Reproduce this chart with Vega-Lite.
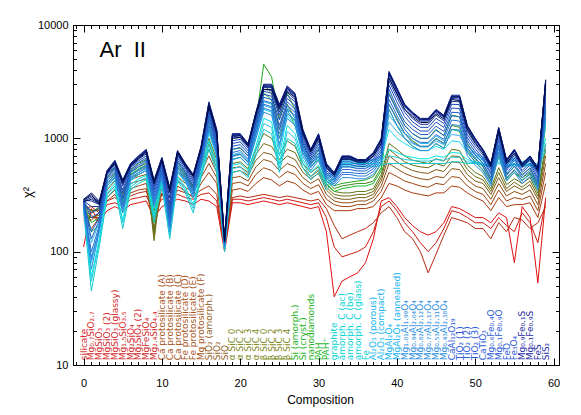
{
"$schema": "https://vega.github.io/schema/vega-lite/v6.json",
"width": 486, "height": 340,
"autosize": {"type": "none"},
"padding": {"left": 73, "top": 25, "right": 22, "bottom": 50},
"background": "white",
"config": {"font": "Liberation Sans", "view": {"stroke": "black", "strokeWidth": 1}},
"datasets": {
"lines": [
{"c":0,"a":110,"b":200,"cc":240,"d":190,"e":210,"f":230,"g":250,"h":220,"i":260,"j":240,"k":260,"l":280,"m":230,"n":250,"o":270,"p":260,"q":240,"r":260,"s":270,"t":280,"u":285,"v":280,"w":290,"x":285,"y1":245,"y2":255,"y3":255,"y4":268,"y5":275,"y6":282,"y7":288,"y8":275},
{"c":1,"a":240,"b":200,"cc":250,"d":160,"e":190,"f":210,"g":230,"h":200,"i":230,"j":220,"k":180,"l":150,"m":45,"n":60,"o":80,"p":120,"q":70,"r":100,"s":150,"t":220,"u":280,"v":300,"w":330,"x":320,"y1":55,"y2":90,"y3":85,"y4":130,"y5":200,"y6":250,"y7":310,"y8":290},
{"c":2,"a":180,"b":200,"cc":220,"d":200,"e":220,"f":180,"g":230,"h":210,"i":240,"j":250,"k":200,"l":170,"m":110,"n":130,"o":150,"p":180,"q":150,"r":170,"s":200,"t":240,"u":260,"v":270,"w":280,"x":260,"y1":120,"y2":160,"y3":160,"y4":190,"y5":220,"y6":250,"y7":275,"y8":265},
{"c":3,"a":230,"b":260,"cc":280,"d":280,"e":300,"f":320,"g":350,"h":380,"i":400,"j":420,"k":450,"l":400,"m":300,"n":330,"o":360,"p":400,"q":380,"r":420,"s":450,"t":480,"u":500,"v":510,"w":520,"x":500,"y1":320,"y2":380,"y3":400,"y4":440,"y5":470,"y6":490,"y7":515,"y8":505},
{"c":4,"a":250,"b":270,"cc":300,"d":320,"e":350,"f":380,"g":420,"h":450,"i":480,"j":500,"k":550,"l":480,"m":360,"n":400,"o":430,"p":470,"q":450,"r":500,"s":540,"t":580,"u":610,"v":620,"w":640,"x":600,"y1":380,"y2":450,"y3":470,"y4":520,"y5":560,"y6":600,"y7":630,"y8":610},
{"c":5,"a":230,"b":250,"cc":270,"d":250,"e":270,"f":300,"g":320,"h":300,"i":330,"j":300,"k":280,"l":260,"m":160,"n":190,"o":220,"p":260,"q":220,"r":260,"s":300,"t":350,"u":400,"v":410,"w":430,"x":420,"y1":180,"y2":240,"y3":240,"y4":290,"y5":330,"y6":380,"y7":425,"y8":400},
{"c":6,"a":260,"b":290,"cc":310,"d":330,"e":360,"f":400,"g":430,"h":450,"i":480,"j":500,"k":520,"l":480,"m":350,"n":390,"o":420,"p":460,"q":430,"r":470,"s":510,"t":550,"u":580,"v":590,"w":600,"x":570,"y1":370,"y2":440,"y3":450,"y4":500,"y5":530,"y6":560,"y7":595,"y8":580},
{"c":7,"a":270,"b":300,"cc":330,"d":350,"e":380,"f":420,"g":460,"h":480,"i":520,"j":560,"k":600,"l":540,"m":400,"n":440,"o":480,"p":520,"q":480,"r":530,"s":580,"t":630,"u":670,"v":680,"w":700,"x":660,"y1":420,"y2":500,"y3":500,"y4":560,"y5":610,"y6":650,"y7":690,"y8":670},
{"c":8,"a":280,"b":310,"cc":340,"d":360,"e":400,"f":440,"g":480,"h":520,"i":560,"j":600,"k":650,"l":580,"m":430,"n":470,"o":520,"p":570,"q":520,"r":580,"s":640,"t":700,"u":760,"v":780,"w":800,"x":750,"y1":450,"y2":540,"y3":550,"y4":620,"y5":670,"y6":730,"y7":790,"y8":770},
{"c":9,"a":200,"b":230,"cc":250,"d":160,"e":180,"f":200,"g":140,"h":125,"i":150,"j":260,"k":230,"l":200,"m":180,"n":210,"o":240,"p":280,"q":250,"r":290,"s":330,"t":370,"u":400,"v":410,"w":430,"x":400,"y1":200,"y2":260,"y3":270,"y4":310,"y5":350,"y6":390,"y7":420,"y8":415},
{"c":10,"a":250,"b":290,"cc":320,"d":330,"e":370,"f":410,"g":450,"h":470,"i":500,"j":520,"k":560,"l":500,"m":380,"n":420,"o":460,"p":500,"q":450,"r":500,"s":560,"t":610,"u":650,"v":660,"w":680,"x":640,"y1":400,"y2":480,"y3":480,"y4":530,"y5":590,"y6":630,"y7":670,"y8":655},
{"c":11,"a":270,"b":300,"cc":260,"d":220,"e":240,"f":260,"g":200,"h":180,"i":200,"j":220,"k":200,"l":180,"m":130,"n":150,"o":170,"p":190,"q":150,"r":180,"s":220,"t":270,"u":330,"v":350,"w":370,"x":340,"y1":140,"y2":180,"y3":165,"y4":200,"y5":240,"y6":300,"y7":360,"y8":355},
{"c":12,"a":290,"b":320,"cc":350,"d":380,"e":420,"f":460,"g":500,"h":520,"i":540,"j":580,"k":620,"l":560,"m":420,"n":460,"o":500,"p":550,"q":520,"r":580,"s":640,"t":700,"u":750,"v":760,"w":780,"x":740,"y1":440,"y2":520,"y3":550,"y4":610,"y5":670,"y6":720,"y7":770,"y8":760},
{"c":13,"a":280,"b":300,"cc":330,"d":340,"e":370,"f":400,"g":430,"h":440,"i":460,"j":480,"k":500,"l":460,"m":330,"n":370,"o":410,"p":450,"q":420,"r":470,"s":510,"t":550,"u":580,"v":590,"w":600,"x":570,"y1":350,"y2":430,"y3":445,"y4":490,"y5":530,"y6":560,"y7":595,"y8":585},
{"c":14,"a":260,"b":290,"cc":310,"d":300,"e":330,"f":350,"g":380,"h":360,"i":380,"j":380,"k":360,"l":340,"m":220,"n":260,"o":300,"p":340,"q":300,"r":340,"s":380,"t":420,"u":460,"v":470,"w":480,"x":460,"y1":240,"y2":320,"y3":320,"y4":360,"y5":400,"y6":440,"y7":475,"y8":470},
{"c":15,"a":290,"b":320,"cc":350,"d":400,"e":450,"f":500,"g":550,"h":560,"i":600,"j":650,"k":700,"l":620,"m":450,"n":500,"o":550,"p":600,"q":560,"r":620,"s":690,"t":760,"u":820,"v":830,"w":850,"x":800,"y1":470,"y2":570,"y3":590,"y4":660,"y5":720,"y6":790,"y7":840,"y8":820},
{"c":16,"a":280,"b":330,"cc":380,"d":500,"e":600,"f":700,"g":800,"h":900,"i":1000,"j":1300,"k":1500,"l":1200,"m":800,"n":950,"o":1100,"p":1250,"q":1200,"r":1400,"s":1600,"t":1800,"u":1950,"v":2000,"w":2100,"x":1900,"y1":870,"y2":1150,"y3":1300,"y4":1500,"y5":1700,"y6":1850,"y7":2050,"y8":2000},
{"c":17,"a":250,"b":280,"cc":320,"d":400,"e":450,"f":500,"g":550,"h":600,"i":650,"j":800,"k":900,"l":750,"m":500,"n":600,"o":700,"p":800,"q":700,"r":800,"s":900,"t":1000,"u":1100,"v":1150,"w":1200,"x":1100,"y1":550,"y2":750,"y3":750,"y4":850,"y5":950,"y6":1050,"y7":1180,"y8":1150},
{"c":18,"a":100,"b":110,"cc":105,"d":110,"e":115,"f":120,"g":112,"h":118,"i":122,"j":120,"k":125,"l":118,"m":100,"n":108,"o":115,"p":120,"q":110,"r":115,"s":120,"t":125,"u":128,"v":125,"w":130,"x":122,"y1":104,"y2":118,"y3":112,"y4":118,"y5":122,"y6":126,"y7":128,"y8":127},
{"c":19,"a":270,"b":290,"cc":300,"d":350,"e":400,"f":450,"g":500,"h":550,"i":600,"j":700,"k":800,"l":650,"m":500,"n":580,"o":650,"p":720,"q":650,"r":750,"s":850,"t":950,"u":1030,"v":1060,"w":1100,"x":1000,"y1":540,"y2":690,"y3":700,"y4":800,"y5":900,"y6":1000,"y7":1080,"y8":1050},
{"c":20,"a":270,"b":290,"cc":310,"d":360,"e":410,"f":460,"g":520,"h":560,"i":620,"j":720,"k":820,"l":680,"m":520,"n":600,"o":680,"p":750,"q":680,"r":780,"s":880,"t":980,"u":1050,"v":1080,"w":1100,"x":1020,"y1":560,"y2":720,"y3":730,"y4":830,"y5":930,"y6":1020,"y7":1090,"y8":1060},
{"c":21,"a":260,"b":280,"cc":300,"d":340,"e":380,"f":420,"g":470,"h":500,"i":540,"j":620,"k":700,"l":580,"m":450,"n":520,"o":580,"p":640,"q":580,"r":660,"s":740,"t":820,"u":870,"v":880,"w":900,"x":850,"y1":480,"y2":610,"y3":620,"y4":700,"y5":780,"y6":850,"y7":890,"y8":870},
{"c":22,"a":270,"b":290,"cc":310,"d":400,"e":480,"f":560,"g":640,"h":720,"i":800,"j":1200,"k":1400,"l":1100,"m":700,"n":850,"o":1000,"p":1150,"q":1000,"r":1200,"s":1350,"t":1500,"u":1650,"v":1650,"w":1700,"x":1600,"y1":780,"y2":1080,"y3":1100,"y4":1280,"y5":1420,"y6":1580,"y7":1680,"y8":1650},
{"c":23,"a":280,"b":300,"cc":320,"d":450,"e":550,"f":650,"g":750,"h":900,"i":1100,"j":3000,"k":4500,"l":2500,"m":1200,"n":1500,"o":1800,"p":2100,"q":1700,"r":2000,"s":2300,"t":2600,"u":2800,"v":2900,"w":3000,"x":2700,"y1":1350,"y2":1950,"y3":1850,"y4":2150,"y5":2450,"y6":2700,"y7":2950,"y8":2850},
{"c":24,"a":270,"b":290,"cc":310,"d":430,"e":520,"f":620,"g":720,"h":850,"i":1000,"j":2500,"k":3500,"l":2200,"m":1100,"n":1400,"o":1700,"p":2000,"q":1600,"r":1900,"s":2200,"t":2500,"u":2800,"v":2900,"w":3000,"x":2700,"y1":1250,"y2":1850,"y3":1750,"y4":2050,"y5":2350,"y6":2650,"y7":2950,"y8":2850},
{"c":25,"a":260,"b":280,"cc":300,"d":380,"e":450,"f":520,"g":600,"h":650,"i":720,"j":1200,"k":1500,"l":1000,"m":500,"n":600,"o":700,"p":850,"q":900,"r":1100,"s":1300,"t":1600,"u":1850,"v":1900,"w":2000,"x":1800,"y1":550,"y2":800,"y3":1000,"y4":1200,"y5":1450,"y6":1700,"y7":1950,"y8":1900},
{"c":26,"a":270,"b":290,"cc":310,"d":420,"e":510,"f":600,"g":700,"h":800,"i":950,"j":2000,"k":2500,"l":1800,"m":1000,"n":1300,"o":1600,"p":1900,"q":1500,"r":1800,"s":2100,"t":2400,"u":2700,"v":2800,"w":2900,"x":2600,"y1":1150,"y2":1750,"y3":1650,"y4":1950,"y5":2250,"y6":2550,"y7":2850,"y8":2750},
{"c":27,"a":260,"b":280,"cc":300,"d":400,"e":480,"f":560,"g":650,"h":750,"i":850,"j":1500,"k":1800,"l":1300,"m":900,"n":1100,"o":1300,"p":1500,"q":1300,"r":1600,"s":1800,"t":2100,"u":2300,"v":2400,"w":2500,"x":2300,"y1":1000,"y2":1400,"y3":1450,"y4":1700,"y5":1950,"y6":2200,"y7":2450,"y8":2400},
{"c":28,"a":250,"b":270,"cc":290,"d":350,"e":400,"f":450,"g":500,"h":550,"i":600,"j":800,"k":900,"l":750,"m":550,"n":650,"o":750,"p":850,"q":700,"r":800,"s":900,"t":1000,"u":1100,"v":1150,"w":1200,"x":1100,"y1":600,"y2":800,"y3":750,"y4":850,"y5":950,"y6":1050,"y7":1180,"y8":1150},
{"c":29,"a":240,"b":260,"cc":280,"d":320,"e":360,"f":400,"g":440,"h":460,"i":500,"j":600,"k":650,"l":560,"m":430,"n":500,"o":560,"p":620,"q":520,"r":580,"s":640,"t":700,"u":760,"v":780,"w":800,"x":760,"y1":460,"y2":590,"y3":550,"y4":610,"y5":670,"y6":730,"y7":790,"y8":780},
{"c":30,"a":250,"b":270,"cc":290,"d":340,"e":390,"f":440,"g":490,"h":520,"i":560,"j":700,"k":800,"l":650,"m":500,"n":580,"o":660,"p":740,"q":640,"r":740,"s":840,"t":940,"u":1040,"v":1070,"w":1100,"x":1000,"y1":540,"y2":700,"y3":690,"y4":790,"y5":890,"y6":990,"y7":1080,"y8":1050},
{"c":31,"a":150,"b":200,"cc":240,"d":260,"e":290,"f":320,"g":350,"h":370,"i":390,"j":420,"k":450,"l":400,"m":350,"n":400,"o":440,"p":480,"q":420,"r":460,"s":500,"t":540,"u":570,"v":580,"w":600,"x":560,"y1":380,"y2":460,"y3":440,"y4":480,"y5":520,"y6":555,"y7":590,"y8":585},
{"c":32,"a":40,"b":110,"cc":170,"d":230,"e":260,"f":280,"g":300,"h":320,"i":340,"j":360,"k":380,"l":340,"m":420,"n":450,"o":480,"p":500,"q":380,"r":410,"s":440,"t":470,"u":490,"v":490,"w":500,"x":470,"y1":440,"y2":490,"y3":395,"y4":425,"y5":455,"y6":480,"y7":495,"y8":485},
{"c":33,"a":55,"b":90,"cc":130,"d":230,"e":250,"f":270,"g":290,"h":310,"i":330,"j":380,"k":400,"l":360,"m":560,"n":600,"o":620,"p":650,"q":450,"r":500,"s":560,"t":620,"u":670,"v":680,"w":700,"x":660,"y1":580,"y2":640,"y3":480,"y4":530,"y5":590,"y6":650,"y7":690,"y8":685},
{"c":34,"a":60,"b":95,"cc":140,"d":230,"e":250,"f":270,"g":290,"h":310,"i":330,"j":390,"k":410,"l":370,"m":560,"n":600,"o":620,"p":650,"q":450,"r":500,"s":560,"t":620,"u":670,"v":680,"w":700,"x":660,"y1":580,"y2":640,"y3":480,"y4":530,"y5":590,"y6":650,"y7":690,"y8":685},
{"c":35,"a":65,"b":100,"cc":150,"d":240,"e":260,"f":280,"g":300,"h":320,"i":340,"j":400,"k":420,"l":380,"m":560,"n":600,"o":620,"p":640,"q":440,"r":490,"s":540,"t":590,"u":630,"v":640,"w":650,"x":620,"y1":580,"y2":630,"y3":465,"y4":515,"y5":565,"y6":610,"y7":645,"y8":640},
{"c":36,"a":80,"b":110,"cc":160,"d":240,"e":260,"f":280,"g":300,"h":320,"i":340,"j":400,"k":430,"l":380,"m":560,"n":600,"o":620,"p":640,"q":440,"r":490,"s":540,"t":590,"u":630,"v":640,"w":650,"x":620,"y1":580,"y2":630,"y3":465,"y4":515,"y5":565,"y6":610,"y7":645,"y8":640},
{"c":37,"a":130,"b":150,"cc":180,"d":250,"e":280,"f":300,"g":320,"h":340,"i":360,"j":420,"k":460,"l":400,"m":560,"n":600,"o":620,"p":650,"q":480,"r":540,"s":600,"t":660,"u":720,"v":730,"w":750,"x":700,"y1":580,"y2":640,"y3":510,"y4":570,"y5":630,"y6":690,"y7":740,"y8":735},
{"c":38,"a":280,"b":250,"cc":220,"d":300,"e":340,"f":380,"g":420,"h":450,"i":480,"j":550,"k":600,"l":520,"m":580,"n":620,"o":650,"p":700,"q":600,"r":680,"s":760,"t":850,"u":930,"v":960,"w":1000,"x":900,"y1":600,"y2":680,"y3":640,"y4":720,"y5":800,"y6":890,"y7":980,"y8":970},
{"c":39,"a":300,"b":280,"cc":250,"d":400,"e":500,"f":600,"g":700,"h":800,"i":900,"j":2000,"k":2500,"l":1800,"m":600,"n":800,"o":1200,"p":1600,"q":1800,"r":2200,"s":2700,"t":3200,"u":3600,"v":3700,"w":3900,"x":3400,"y1":700,"y2":1400,"y3":2000,"y4":2450,"y5":2950,"y6":3400,"y7":3800,"y8":3750},
{"c":40,"a":250,"b":230,"cc":200,"d":380,"e":460,"f":540,"g":620,"h":700,"i":800,"j":1500,"k":1800,"l":1300,"m":600,"n":750,"o":1000,"p":1300,"q":1300,"r":1600,"s":1900,"t":2300,"u":2600,"v":2700,"w":2800,"x":2500,"y1":680,"y2":1150,"y3":1450,"y4":1750,"y5":2100,"y6":2450,"y7":2750,"y8":2720},
{"c":41,"a":200,"b":180,"cc":150,"d":350,"e":420,"f":490,"g":560,"h":620,"i":700,"j":1100,"k":1300,"l":1000,"m":600,"n":700,"o":900,"p":1100,"q":1000,"r":1200,"s":1400,"t":1700,"u":1900,"v":1950,"w":2000,"x":1800,"y1":650,"y2":1000,"y3":1100,"y4":1300,"y5":1550,"y6":1800,"y7":1980,"y8":1960},
{"c":42,"a":170,"b":150,"cc":130,"d":330,"e":400,"f":460,"g":520,"h":580,"i":640,"j":950,"k":1100,"l":850,"m":600,"n":680,"o":820,"p":1000,"q":850,"r":1000,"s":1200,"t":1400,"u":1600,"v":1650,"w":1700,"x":1550,"y1":640,"y2":900,"y3":920,"y4":1100,"y5":1300,"y6":1500,"y7":1680,"y8":1660},
{"c":43,"a":150,"b":120,"cc":100,"d":320,"e":380,"f":440,"g":500,"h":560,"i":620,"j":850,"k":1000,"l":780,"m":600,"n":660,"o":780,"p":900,"q":780,"r":920,"s":1080,"t":1250,"u":1420,"v":1450,"w":1500,"x":1380,"y1":630,"y2":840,"y3":850,"y4":1000,"y5":1160,"y6":1330,"y7":1480,"y8":1470},
{"c":44,"a":140,"b":100,"cc":65,"d":310,"e":370,"f":430,"g":490,"h":550,"i":600,"j":850,"k":1000,"l":780,"m":600,"n":660,"o":780,"p":900,"q":780,"r":920,"s":1080,"t":1250,"u":1420,"v":1450,"w":1500,"x":1380,"y1":630,"y2":840,"y3":850,"y4":1000,"y5":1160,"y6":1330,"y7":1480,"y8":1470},
{"c":45,"a":150,"b":120,"cc":95,"d":330,"e":400,"f":460,"g":530,"h":600,"i":660,"j":1000,"k":1200,"l":900,"m":600,"n":700,"o":850,"p":1050,"q":900,"r":1080,"s":1280,"t":1500,"u":1700,"v":1750,"w":1800,"x":1650,"y1":650,"y2":950,"y3":990,"y4":1180,"y5":1390,"y6":1600,"y7":1780,"y8":1760},
{"c":46,"a":180,"b":160,"cc":140,"d":330,"e":390,"f":450,"g":510,"h":570,"i":630,"j":900,"k":1050,"l":820,"m":600,"n":680,"o":800,"p":950,"q":820,"r":980,"s":1150,"t":1350,"u":1520,"v":1550,"w":1600,"x":1480,"y1":640,"y2":880,"y3":900,"y4":1060,"y5":1250,"y6":1430,"y7":1580,"y8":1560},
{"c":47,"a":250,"b":230,"cc":200,"d":380,"e":460,"f":540,"g":620,"h":700,"i":800,"j":1300,"k":1600,"l":1200,"m":620,"n":750,"o":950,"p":1200,"q":1200,"r":1450,"s":1700,"t":2000,"u":2250,"v":2300,"w":2400,"x":2200,"y1":680,"y2":1080,"y3":1320,"y4":1580,"y5":1850,"y6":2120,"y7":2350,"y8":2330},
{"c":48,"a":240,"b":220,"cc":190,"d":370,"e":450,"f":530,"g":610,"h":690,"i":780,"j":1250,"k":1550,"l":1150,"m":620,"n":740,"o":930,"p":1180,"q":1180,"r":1420,"s":1680,"t":1980,"u":2220,"v":2300,"w":2400,"x":2150,"y1":680,"y2":1060,"y3":1300,"y4":1550,"y5":1830,"y6":2100,"y7":2350,"y8":2330},
{"c":49,"a":220,"b":200,"cc":180,"d":330,"e":380,"f":430,"g":480,"h":530,"i":580,"j":800,"k":900,"l":750,"m":600,"n":650,"o":750,"p":850,"q":700,"r":820,"s":950,"t":1080,"u":1220,"v":1260,"w":1300,"x":1200,"y1":620,"y2":800,"y3":760,"y4":880,"y5":1010,"y6":1150,"y7":1280,"y8":1270},
{"c":50,"a":200,"b":180,"cc":160,"d":300,"e":340,"f":380,"g":420,"h":460,"i":500,"j":650,"k":720,"l":620,"m":600,"n":620,"o":680,"p":750,"q":580,"r":670,"s":760,"t":860,"u":950,"v":980,"w":1000,"x":920,"y1":610,"y2":720,"y3":620,"y4":710,"y5":810,"y6":900,"y7":990,"y8":980},
{"c":51,"a":200,"b":180,"cc":160,"d":280,"e":320,"f":360,"g":400,"h":430,"i":460,"j":560,"k":600,"l":520,"m":580,"n":600,"o":640,"p":680,"q":500,"r":570,"s":640,"t":710,"u":770,"v":780,"w":800,"x":740,"y1":590,"y2":660,"y3":530,"y4":600,"y5":670,"y6":740,"y7":790,"y8":785},
{"c":52,"a":180,"b":160,"cc":130,"d":230,"e":260,"f":290,"g":320,"h":340,"i":360,"j":420,"k":450,"l":400,"m":560,"n":580,"o":600,"p":620,"q":380,"r":430,"s":480,"t":530,"u":580,"v":580,"w":600,"x":560,"y1":570,"y2":610,"y3":400,"y4":450,"y5":500,"y6":555,"y7":590,"y8":585},
{"c":53,"a":220,"b":200,"cc":180,"d":300,"e":350,"f":400,"g":450,"h":500,"i":550,"j":750,"k":850,"l":700,"m":600,"n":650,"o":750,"p":850,"q":700,"r":820,"s":950,"t":1080,"u":1200,"v":1220,"w":1250,"x":1150,"y1":620,"y2":800,"y3":760,"y4":880,"y5":1010,"y6":1140,"y7":1230,"y8":1220},
{"c":54,"a":200,"b":170,"cc":150,"d":250,"e":280,"f":310,"g":340,"h":360,"i":390,"j":450,"k":480,"l":430,"m":560,"n":580,"o":600,"p":620,"q":420,"r":470,"s":520,"t":570,"u":620,"v":630,"w":650,"x":600,"y1":570,"y2":610,"y3":440,"y4":490,"y5":540,"y6":595,"y7":640,"y8":635},
{"c":55,"a":80,"b":150,"cc":200,"d":260,"e":300,"f":340,"g":380,"h":410,"i":440,"j":520,"k":560,"l":500,"m":580,"n":600,"o":640,"p":680,"q":500,"r":570,"s":640,"t":710,"u":770,"v":780,"w":800,"x":740,"y1":590,"y2":660,"y3":530,"y4":600,"y5":670,"y6":740,"y7":790,"y8":785},
{"c":56,"a":250,"b":220,"cc":190,"d":260,"e":290,"f":320,"g":350,"h":370,"i":400,"j":450,"k":480,"l":430,"m":560,"n":580,"o":600,"p":620,"q":400,"r":450,"s":500,"t":550,"u":580,"v":590,"w":600,"x":570,"y1":570,"y2":610,"y3":420,"y4":470,"y5":520,"y6":565,"y7":595,"y8":590},
{"c":57,"a":200,"b":180,"cc":160,"d":270,"e":310,"f":350,"g":390,"h":420,"i":450,"j":500,"k":540,"l":480,"m":580,"n":600,"o":630,"p":660,"q":460,"r":520,"s":580,"t":640,"u":680,"v":690,"w":700,"x":660,"y1":590,"y2":645,"y3":490,"y4":550,"y5":610,"y6":660,"y7":695,"y8":690},
{"c":58,"a":53,"b":120,"cc":180,"d":200,"e":230,"f":260,"g":290,"h":310,"i":330,"j":380,"k":400,"l":360,"m":520,"n":540,"o":560,"p":580,"q":350,"r":390,"s":430,"t":480,"u":530,"v":540,"w":550,"x":520,"y1":530,"y2":570,"y3":370,"y4":410,"y5":450,"y6":500,"y7":545,"y8":540},
{"c":59,"a":300,"b":280,"cc":250,"d":400,"e":500,"f":600,"g":700,"h":800,"i":900,"j":1500,"k":1800,"l":1300,"m":800,"n":1000,"o":1300,"p":1600,"q":1500,"r":1900,"s":2300,"t":2700,"u":3100,"v":3200,"w":3300,"x":3000,"y1":900,"y2":1450,"y3":1700,"y4":2100,"y5":2500,"y6":2900,"y7":3250,"y8":3200}
],
"labels": [
{"c":0,"name":"silicate","fam":"sil"},
{"c":1,"name":"Mg₀.₇SiO₂.₇","fam":"sil"},
{"c":2,"name":"MgSiO₃","fam":"sil"},
{"c":3,"name":"MgSiO₃ (2)","fam":"sil"},
{"c":4,"name":"MgSiO₃ (glassy)","fam":"sil"},
{"c":5,"name":"Mg₁.₅SiO₃.₅","fam":"sil"},
{"c":6,"name":"Mg₂SiO₄","fam":"sil"},
{"c":7,"name":"Mg₂SiO₄ (2)","fam":"sil"},
{"c":8,"name":"MgFeSiO₄","fam":"sil"},
{"c":9,"name":"Mg₂.₄SiO₄.₄","fam":"sil"},
{"c":10,"name":"Ca protosilicate (A)","fam":"proto"},
{"c":11,"name":"Ca protosilicate (B)","fam":"proto"},
{"c":12,"name":"Ca protosilicate (C)","fam":"proto"},
{"c":13,"name":"Fe protosilicate (D)","fam":"proto"},
{"c":14,"name":"Fe protosilicate (E)","fam":"proto"},
{"c":15,"name":"Mg protosilicate (F)","fam":"proto"},
{"c":16,"name":"SiO₂     (amorph.)","fam":"sio"},
{"c":17,"name":"SiO₂","fam":"sio"},
{"c":18,"name":"SiO","fam":"sio"},
{"c":19,"name":"α SiC 0","fam":"sic"},
{"c":20,"name":"α SiC 2","fam":"sic"},
{"c":21,"name":"α SiC 3","fam":"sic"},
{"c":22,"name":"α SiC 4","fam":"sic"},
{"c":23,"name":"β SiC 0","fam":"sic"},
{"c":24,"name":"β SiC 2","fam":"sic"},
{"c":25,"name":"β SiC 3","fam":"sic"},
{"c":26,"name":"β SiC 4","fam":"sic"},
{"c":27,"name":"Si (amorph.)","fam":"si"},
{"c":28,"name":"Si (cryst.)","fam":"si"},
{"c":29,"name":"nanodiamonds","fam":"si"},
{"c":30,"name":"PAH","fam":"si"},
{"c":31,"name":"PAH⁺","fam":"si"},
{"c":32,"name":"graphite","fam":"car"},
{"c":33,"name":"amorph. C (ac)","fam":"car"},
{"c":34,"name":"amorph. C (be)","fam":"car"},
{"c":35,"name":"amorph. C (glass)","fam":"car"},
{"c":36,"name":"Fe","fam":"car"},
{"c":37,"name":"Al₂O₃ (porous)","fam":"al"},
{"c":38,"name":"Al₂O₃ (compact)","fam":"al"},
{"c":39,"name":"MgAl₂O₄","fam":"al"},
{"c":40,"name":"MgAl₂O₄ (annealed)","fam":"al"},
{"c":41,"name":"Mg₁.₀₁Al₁.₉₉O₄","fam":"sp"},
{"c":42,"name":"Mg₀.₉₄Al₂.₀₄O₄","fam":"sp"},
{"c":43,"name":"Mg₀.₈₂Al₂.₁₂O₄","fam":"sp"},
{"c":44,"name":"Mg₀.₇₇Al₂.₁₇O₄","fam":"sp"},
{"c":45,"name":"Mg₀.₅₃Al₂.₃₁O₄","fam":"sp"},
{"c":46,"name":"Mg₀.₄₃Al₂.₃₈O₄","fam":"sp"},
{"c":47,"name":"CaAl₁₂O₁₉","fam":"ox"},
{"c":48,"name":"TiO₂ (1)","fam":"ox"},
{"c":49,"name":"TiO₂ (2)","fam":"ox"},
{"c":50,"name":"TiO₂ (3)","fam":"ox"},
{"c":51,"name":"CaTiO₃","fam":"ox"},
{"c":52,"name":"Mg₀.₆Fe₀.₄O","fam":"ox"},
{"c":53,"name":"Mg₀.₁Fe₀.₉O","fam":"ox"},
{"c":54,"name":"FeO","fam":"ox"},
{"c":55,"name":"Fe₃O₄","fam":"ox"},
{"c":56,"name":"Mg₀.₉Fe₀.₁S","fam":"sul"},
{"c":57,"name":"Mg₀.₁Fe₀.₉S","fam":"sul"},
{"c":58,"name":"FeS","fam":"sul"},
{"c":59,"name":"SiS₂","fam":"sul"}
]
},
"layer": [
{
"data": {"name": "lines"},
"transform": [{"fold": ["a","b","cc","d","e","f","g","h","i","j","k","l","m","y1","n","o","p","y2","q","y3","r","s","y4","t","y5","u","y6","v","y7","w","y8","x"], "as": ["series","chi2"]}],
"mark": {"type": "line", "strokeWidth": 1, "clip": true},
"encoding": {
"x": {"field": "c", "type": "quantitative", "scale": {"domain": [-1.35, 60.7], "nice": false, "zero": false},
"axis": {"orient": "bottom", "offset": -3.5, "values": [-1,0,1,2,3,4,5,6,7,8,9,10,11,12,13,14,15,16,17,18,19,20,21,22,23,24,25,26,27,28,29,30,31,32,33,34,35,36,37,38,39,40,41,42,43,44,45,46,47,48,49,50,51,52,53,54,55,56,57,58,59,60],
"format": "d", "labelExpr": "datum.value % 10 === 0 ? datum.label : ''",
"tickSize": 3.5, "zindex": 1,
"tickColor": "black", "domain": false, "grid": false, "labelFontSize": 11, "labelColor": "black", "labelPadding": 12.5,
"labelOverlap": false, "labelFlush": false, "labelBound": false,
"title": "Composition", "titleFontSize": 12, "titleFontWeight": "normal", "titleColor": "black", "titleX": 247, "titleY": 37.5, "titleBaseline": "middle", "titleAlign": "center"}},
"y": {"field": "chi2", "type": "quantitative", "scale": {"type": "log", "domain": [10, 10000], "nice": false},
"axis": {"orient": "left", "offset": -3.5, "values": [10,20,30,40,50,60,70,80,90,100,200,300,400,500,600,700,800,900,1000,2000,3000,4000,5000,6000,7000,8000,9000,10000],
"format": "d", "labelExpr": "indexof([10,100,1000,10000], datum.value) >= 0 ? datum.label : ''",
"tickSize": 3.5, "zindex": 1,
"tickColor": "black", "domain": false, "grid": false, "labelFontSize": 11, "labelColor": "black", "labelPadding": 5,
"labelOverlap": false, "labelFlush": false, "labelBound": false,
"title": "χ²", "titleFontSize": 13, "titleFontWeight": "normal", "titleColor": "black", "titleX": -49.5, "titleY": 167, "titleAngle": 270, "titleBaseline": "middle", "titleAlign": "center"}},
"color": {"field": "series", "type": "nominal", "legend": null,
"scale": {"domain": ["a","b","cc","d","e","f","g","h","i","j","k","l","m","y1","n","o","p","y2","q","y3","r","s","y4","t","y5","u","y6","v","y7","w","y8","x"],
"range": ["#e01010","#cc1a10","#b82a12","#a83a0c","#9c4410","#8c4e12","#7e5a14","#6e6a14","#5c7418","#3c8c1c","#22a422","#18c030","#10cccc","#28c4dc","#00e4e4","#18d8f0","#30b8e8","#38aee6","#2a8ee0","#2a7ad8","#2470d8","#1c58c8","#1e62cc","#1844b8","#1a4cc0","#1434a8","#10309c","#0c2696","#0a2088","#081a80","#06146c","#000a40"]}}
}
},
{
"data": {"name": "labels"},
"mark": {"type": "text", "angle": 270, "align": "left", "baseline": "middle", "fontSize": 9, "font": "DejaVu Sans"},
"encoding": {
"x": {"field": "c", "type": "quantitative", "axis": null},
"y": {"datum": 11, "type": "quantitative", "axis": null},
"text": {"field": "name"},
"color": {"field": "fam", "type": "nominal", "legend": null,
"scale": {"domain": ["sil","proto","sio","sic","si","car","al","sp","ox","sul"],
"range": ["#d42a2a","#a8561c","#93621e","#7f8a1c","#22b422","#00d4d4","#14b4ee","#2a8ee0","#2a5ad8","#1c2aa8"]}}
}
},
{
"data": {"values": [{}]},
"mark": {"type": "text", "text": "Ar\u00a0\u00a0II", "align": "left", "baseline": "alphabetic", "fontSize": 22, "color": "black"},
"encoding": {
"x": {"datum": 2.03, "type": "quantitative", "axis": null},
"y": {"datum": 5190, "type": "quantitative", "axis": null}
}
},
{
"data": {"name": "lines"},
"transform": [{"fold": ["x"], "as": ["series","chi2"]}],
"mark": {"type": "line", "opacity": 0},
"encoding": {
"x": {"field": "c", "type": "quantitative",
"axis": {"orient": "bottom", "offset": -7, "values": [0,10,20,30,40,50,60], "labels": false, "title": null, "domain": false, "grid": false, "tickColor": "black", "tickSize": 7, "zindex": 1}},
"y": {"field": "chi2", "type": "quantitative",
"axis": {"orient": "left", "offset": -7, "values": [10,100,1000,10000], "labels": false, "title": null, "domain": false, "grid": false, "tickColor": "black", "tickSize": 7, "zindex": 1}}
}
},
{
"data": {"name": "lines"},
"transform": [{"fold": ["x"], "as": ["series","chi2"]}],
"mark": {"type": "line", "opacity": 0},
"encoding": {
"x": {"field": "c", "type": "quantitative",
"axis": {"orient": "top", "offset": -3.5, "values": [-1,0,1,2,3,4,5,6,7,8,9,10,11,12,13,14,15,16,17,18,19,20,21,22,23,24,25,26,27,28,29,30,31,32,33,34,35,36,37,38,39,40,41,42,43,44,45,46,47,48,49,50,51,52,53,54,55,56,57,58,59,60], "labels": false, "title": null, "domain": false, "grid": false, "tickColor": "black", "tickSize": 3.5, "zindex": 1}},
"y": {"field": "chi2", "type": "quantitative",
"axis": {"orient": "right", "offset": -3.5, "values": [10,20,30,40,50,60,70,80,90,100,200,300,400,500,600,700,800,900,1000,2000,3000,4000,5000,6000,7000,8000,9000,10000], "labels": false, "title": null, "domain": false, "grid": false, "tickColor": "black", "tickSize": 3.5, "zindex": 1}}
}
},
{
"data": {"name": "lines"},
"transform": [{"fold": ["x"], "as": ["series","chi2"]}],
"mark": {"type": "line", "opacity": 0},
"encoding": {
"x": {"field": "c", "type": "quantitative",
"axis": {"orient": "top", "offset": -7, "values": [0,10,20,30,40,50,60], "labels": false, "title": null, "domain": false, "grid": false, "tickColor": "black", "tickSize": 7, "zindex": 1}},
"y": {"field": "chi2", "type": "quantitative",
"axis": {"orient": "right", "offset": -7, "values": [10,100,1000,10000], "labels": false, "title": null, "domain": false, "grid": false, "tickColor": "black", "tickSize": 7, "zindex": 1}}
}
}
],
"resolve": {"axis": {"x": "independent", "y": "independent"}, "scale": {"color": "independent"}}
}
